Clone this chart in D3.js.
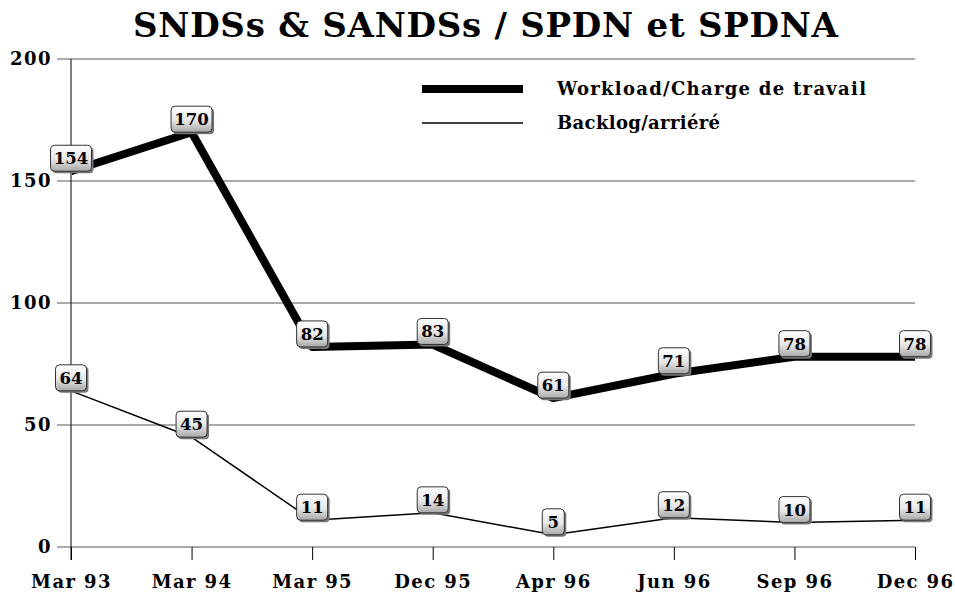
<!DOCTYPE html>
<html><head><meta charset="utf-8">
<script src="https://cdn.jsdelivr.net/npm/d3@7"></script>
<style>body{margin:0;background:#fff}svg{display:block}</style>
</head><body>
<svg id="c" width="955" height="592"></svg>
<script>
const categories = ["Mar 93","Mar 94","Mar 95","Dec 95","Apr 96","Jun 96","Sep 96","Dec 96"];
const workload = [154,170,82,83,61,71,78,78];
const backlog = [64,45,11,14,5,12,10,11];
const yTicks = [0,50,100,150,200];
const seriesNames = ["Workload/Charge de travail","Backlog/arriéré"];
const title = "SNDSs & SANDSs / SPDN et SPDNA";

const FONT = "'DejaVu Serif', serif";
const svg = d3.select("#c");
const defs = svg.append("defs");
const grad = defs.append("linearGradient").attr("id","g").attr("x1",0).attr("y1",0).attr("x2",0).attr("y2",1);
grad.append("stop").attr("offset","0%").attr("stop-color","#ffffff");
grad.append("stop").attr("offset","55%").attr("stop-color","#e6e6e6");
grad.append("stop").attr("offset","100%").attr("stop-color","#a8a8a8");

const x = d3.scalePoint().domain(categories).range([71,915]);
const y = d3.scaleLinear().domain([0,200]).range([547,59]);

svg.append("text").attr("x",485.5).attr("y",37).attr("text-anchor","middle")
  .attr("font-family",FONT).attr("font-weight","bold").attr("font-size",34)
  .attr("textLength",705).attr("lengthAdjust","spacing")
  .text(title);

// gridlines
svg.append("g").selectAll("line").data(yTicks).join("line")
  .attr("x1",57).attr("x2",915).attr("y1",d=>y(d)).attr("y2",d=>y(d))
  .attr("stroke","#555").attr("stroke-width",1.2);

// y axis
const ya = svg.append("g").attr("transform","translate(71,0)")
  .call(d3.axisLeft(y).tickValues(yTicks).tickSize(0).tickPadding(19));
ya.select(".domain").remove();
ya.selectAll("text").attr("font-family",FONT).attr("font-weight","bold").attr("font-size",18).attr("fill","#000").attr("letter-spacing",1.5);
svg.append("line").attr("x1",71).attr("x2",71).attr("y1",59).attr("y2",560).attr("stroke","#000");

// x axis
const xa = svg.append("g").attr("transform","translate(0,547)")
  .call(d3.axisBottom(x).tickSize(13).tickPadding(15));
xa.select(".domain").remove();
xa.selectAll("line").attr("stroke","#000");
xa.selectAll("text").attr("font-family",FONT).attr("font-weight","bold").attr("font-size",18).attr("letter-spacing",1.4).attr("fill","#000").attr("dy","0.7em");

const line = d3.line().x((d,i)=>x(categories[i])).y(d=>y(d));
svg.append("path").datum(workload).attr("d",line).attr("fill","none").attr("stroke","#000").attr("stroke-width",8).attr("stroke-linejoin","round");
svg.append("path").datum(backlog).attr("d",line).attr("fill","none").attr("stroke","#000").attr("stroke-width",1.5);

// legend
const lg = svg.append("g");
const legW = [309, 163];
[8,1.5].forEach((w,i)=>{
  const ly = 89 + i*34;
  lg.append("line").attr("x1",422).attr("x2",523).attr("y1",ly).attr("y2",ly).attr("stroke","#000").attr("stroke-width",w);
  lg.append("text").attr("x",557).attr("y",ly+6).attr("font-family",FONT).attr("font-weight","bold").attr("font-size",18)
    .attr("textLength",legW[i]).attr("lengthAdjust","spacing").text(seriesNames[i]);
});

// labels
function labels(data){
  const g = svg.append("g");
  data.forEach((v,i)=>{
    const s = String(v);
    const w = s.length===1?22:(s.length===2?31:41), h=26;
    const cx = x(categories[i]), by = y(v);
    const gg = g.append("g").attr("transform",`translate(${cx-w/2},${by-h})`);
    gg.append("rect").attr("x",2).attr("y",2).attr("width",w).attr("height",h).attr("rx",4).attr("fill","#777");
    gg.append("rect").attr("width",w).attr("height",h).attr("rx",4).attr("fill","url(#g)").attr("stroke","#333").attr("stroke-width",1);
    gg.append("text").attr("x",w/2).attr("y",h/2+6).attr("text-anchor","middle")
      .attr("font-family",FONT).attr("font-weight","bold").attr("font-size",16.5).text(s);
  });
}
labels(workload);
labels(backlog);
</script>
</body></html>
